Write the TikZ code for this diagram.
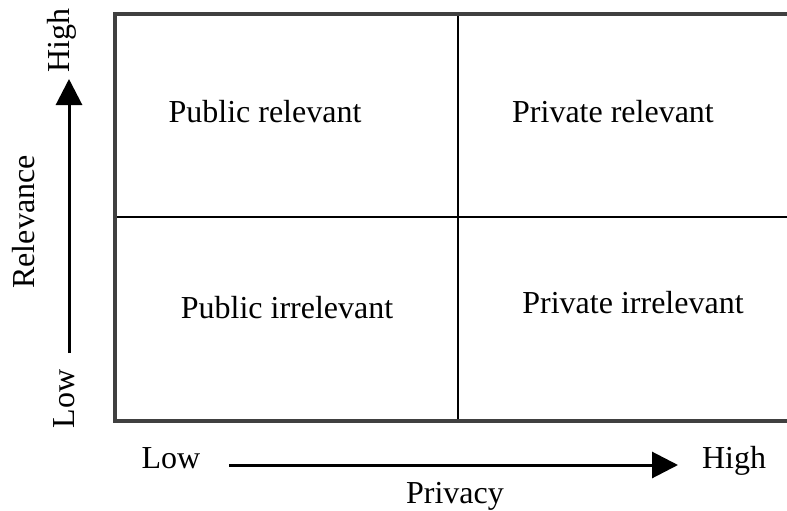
\documentclass[tikz,border=0pt]{standalone}
\usepackage{fontspec}
\setmainfont{Liberation Serif}
\usetikzlibrary{positioning,arrows.meta}

\begin{document}
\begin{tikzpicture}[x=1pt, y=-1pt, font=\fontsize{32}{38}\selectfont]
    % Styles
    \tikzstyle{quad} = [anchor=base, inner sep=0pt]
    \tikzstyle{axislabel} = [anchor=base, inner sep=0pt]
    \tikzstyle{axis} = [line width=3pt, -{Triangle[length=26pt, width=26pt]}]
    \tikzstyle{frame} = [draw=black!75, line width=3.5pt]
    \tikzstyle{divider} = [line width=2pt]

    \clip (0,0) rectangle (787,511);

    % Grid corners
    \coordinate (NW) at (115,14);
    \coordinate (SE) at (800,421);
    \coordinate (Top) at (458,14);
    \coordinate (Bot) at (458,421);
    \coordinate (Lft) at (115,217);
    \coordinate (Rgt) at (800,217);

    % Quadrants
    \draw [divider] (Top) -- (Bot);
    \draw [divider] (Lft) -- (Rgt);
    \draw [frame] (NW) rectangle (SE);

    \node [quad] (PubRel) at (265,122) {Public relevant};
    \node [quad] (PriRel) at (613,122) {Private relevant};
    \node [quad] (PubIrr) at (287,318) {Public irrelevant};
    \node [quad] (PriIrr) at (633,313) {Private irrelevant};

    % Relevance axis
    \coordinate (RelLow) at (69,353);
    \coordinate (RelHigh) at (69,79);
    \draw [axis] (RelLow) -- (RelHigh);
    \node [axislabel, rotate=90] (RelHighTxt) at (69,41) {High};
    \node [axislabel, rotate=90] (RelTxt) at (34,222) {Relevance};
    \node [axislabel, rotate=90] (RelLowTxt) at (74,399) {Low};

    % Privacy axis
    \coordinate (PrvLow) at (229,465);
    \coordinate (PrvHigh) at (678,465);
    \draw [axis] (PrvLow) -- (PrvHigh);
    \node [axislabel] (PrvLowTxt) at (171,468) {Low};
    \node [axislabel] (PrvHighTxt) at (734,468) {High};
    \node [axislabel] (PrvTxt) at (455,503) {Privacy};

\end{tikzpicture}
\end{document}
